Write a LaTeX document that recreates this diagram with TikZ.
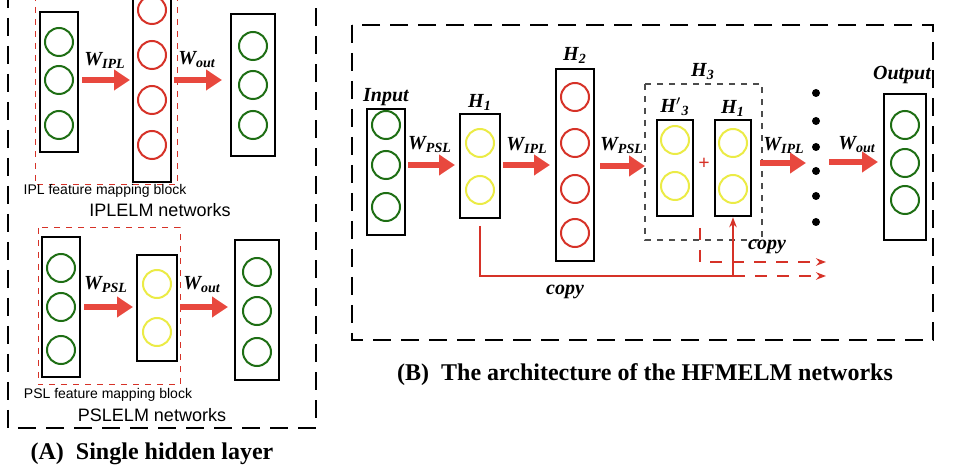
\documentclass[tikz,border=0pt]{standalone}
\usepackage{fontspec}
\setmainfont{Liberation Serif}
\setsansfont{Liberation Sans}
\usetikzlibrary{arrows.meta}
\definecolor{nred}{RGB}{214,50,40}
\definecolor{ngreen}{RGB}{30,110,20}
\definecolor{nyellow}{RGB}{235,235,70}
\definecolor{ared}{RGB}{232,72,62}
\tikzset{
    layer/.style={draw=black, line width=1.3pt, minimum width=19pt, inner sep=0pt},
    unit/.style={circle, line width=1pt, minimum size=14pt, inner sep=0pt},
    weight/.style={-{Triangle[length=8pt,width=10pt]}, line width=3pt, draw=ared},
    wlab/.style={font=\bfseries\itshape},
    block/.style={draw=nred, dashed, line width=0.5pt},
    copyline/.style={draw=nred, line width=1.2pt},
}
\newcommand{\wl}[1]{W\textsubscript{#1}}
\begin{document}
\begin{tikzpicture}[x=0.5pt, y=-0.5pt]
    \useasboundingbox (0,0) rectangle (960,470);
    % panel A
    \draw[line width=1.3pt, dash pattern=on 9pt off 5pt] (8,-10) rectangle (316,428);
    % IPLELM
    \draw[block] (35,-5) rectangle (177,185);
    \node[layer, minimum height=70pt] (ia) at (59,82) {};
    \foreach \y in {42,80,125}
        \node[unit, draw=ngreen] at (59,\y) {};
    \node[layer, minimum height=95pt] (ib) at (152,87) {};
    \foreach \y in {10,55,100,145}
        \node[unit, draw=nred] at (152,\y) {};
    \node[layer, minimum width=22pt, minimum height=71pt] (ic) at (253,85) {};
    \foreach \y in {46,85,125}
        \node[unit, draw=ngreen] at (253,\y) {};
    \draw[weight] (82,80) -- (130,80);
    \draw[weight] (174,80) -- (222,80);
    \node[wlab] (iw1) at (105,60) {\wl{IPL}};
    \node[wlab] (iw2) at (197,60) {\wl{out}};
    \node[font=\sffamily\scriptsize] (itag) at (105,191) {IPL feature mapping block};
    \node[font=\sffamily\small] (iname) at (160,210) {IPLELM networks};
    % PSLELM
    \draw[block] (38,228) rectangle (180,385);
    \node[layer, minimum height=70pt] (pa) at (61,307) {};
    \foreach \y in {268,307,350}
        \node[unit, draw=ngreen] at (61,\y) {};
    \node[layer, minimum width=20pt, minimum height=53pt] (pb) at (157,308) {};
    \foreach \y in {284,332}
        \node[unit, draw=nyellow] at (157,\y) {};
    \node[layer, minimum width=22pt, minimum height=70pt] (pc) at (257,310) {};
    \foreach \y in {272,311,352}
        \node[unit, draw=ngreen] at (257,\y) {};
    \draw[weight] (84,307) -- (133,307);
    \draw[weight] (180,307) -- (228,307);
    \node[wlab] (pw1) at (106,285) {\wl{PSL}};
    \node[wlab] (pw2) at (202,285) {\wl{out}};
    \node[font=\sffamily\scriptsize] (ptag) at (108,395) {PSL feature mapping block};
    \node[font=\sffamily\small] (pname) at (152,415) {PSLELM networks};
    \node[font=\bfseries\large] (capA) at (152,454) {(A)\ \ Single hidden layer};
    % panel B
    \draw[line width=1.3pt, dash pattern=on 9pt off 5pt] (352,25) rectangle (933,340);
    \node[layer, minimum height=63pt] (in) at (386,172) {};
    \foreach \y in {125,165,207}
        \node[unit, draw=ngreen] at (386,\y) {};
    \node[wlab] at (386,97) {Input};
    \node[layer, minimum width=20pt, minimum height=52pt] (h1) at (480,166) {};
    \foreach \y in {143,190}
        \node[unit, draw=nyellow] at (480,\y) {};
    \node[wlab] at (480,102) {H\textsubscript{1}};
    \node[layer, minimum height=96pt] (h2) at (575,165) {};
    \foreach \y in {97,143,189,233}
        \node[unit, draw=nred] at (575,\y) {};
    \node[wlab] at (575,55) {H\textsubscript{2}};
    \draw[dashed, draw=black!70, line width=0.6pt] (645,84) rectangle (762,240);
    \node[wlab] at (703,72) {H\textsubscript{3}};
    \node[layer, minimum width=18pt, minimum height=48pt] (h3) at (675,168) {};
    \foreach \y in {140,186}
        \node[unit, draw=nyellow] at (675,\y) {};
    \node[wlab] at (675,107) {H$'$\textsubscript{3}};
    \node[layer, minimum width=18pt, minimum height=48pt] (h1c) at (733,168) {};
    \foreach \y in {143,189}
        \node[unit, draw=nyellow] at (733,\y) {};
    \node[wlab] at (733,108) {H\textsubscript{1}};
    \node[text=nred, font=\bfseries] (plus) at (704,164) {+};
    \foreach \y in {93,121,147,171,196,222}
        \fill (816,\y) circle (2pt);
    \node[layer, minimum width=21pt, minimum height=73pt] (out) at (905,167) {};
    \foreach \y in {125,163,200}
        \node[unit, draw=ngreen] at (905,\y) {};
    \node[wlab] at (902,75) {Output};
    % weights
    \draw[weight] (408,165) -- (455,165);
    \draw[weight] (503,165) -- (550,165);
    \draw[weight] (600,166) -- (645,166);
    \draw[weight] (760,163) -- (806,163);
    \draw[weight] (829,162) -- (878,162);
    \node[wlab] at (430,145) {\wl{PSL}};
    \node[wlab] at (527,145) {\wl{IPL}};
    \node[wlab] at (622,146) {\wl{PSL}};
    \node[wlab] at (784,145) {\wl{IPL}};
    \node[wlab] at (857,145) {\wl{out}};
    % copy
    \coordinate (c1) at (733,276);
    \draw[copyline] (h1.south |- 0,226) -- (480,276) -- (c1);
    \draw[copyline, -{Stealth[length=5pt]}] (c1) -- (h1c.south);
    \draw[copyline, dashed, dash pattern=on 6pt off 5pt, -{Stealth[length=5pt]}] (c1) -- (826,276);
    \draw[copyline, dashed, dash pattern=on 6pt off 5pt, -{Stealth[length=5pt]}] (700,228) -- (700,262) -- (826,262);
    \node[wlab] at (565,292) {copy};
    \node[wlab] at (767,247) {copy};
    \node[font=\bfseries\large] (capB) at (645,375) {(B)\ \ The architecture of the HFMELM networks};
\end{tikzpicture}
\end{document}
